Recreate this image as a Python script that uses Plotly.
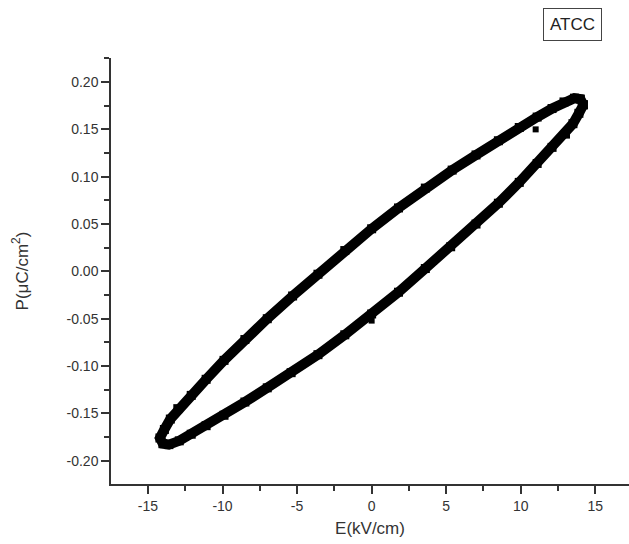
import plotly.graph_objects as go

# Hysteresis loop (E in kV/cm, P in uC/cm^2)
E_vals = [14.2, 14.0, 13.6, 12.9, 12.1, 11.1, 9.9, 8.5, 7.0, 5.4, 3.6, 1.8, 0.0,
          -1.8, -3.6, -5.3, -7.0, -8.5, -9.9, -11.1, -12.1, -13.0, -13.5, -13.9,
          -14.2, -14.0, -13.6, -12.9, -12.1, -11.1, -9.9, -8.5, -7.0, -5.4, -3.6,
          -1.8, 0.0, 1.8, 3.6, 5.3, 7.0, 8.5, 9.9, 11.1, 12.1, 13.0, 13.5, 13.9, 14.2]
P_vals = [0.176, 0.182, 0.183, 0.179, 0.172, 0.163, 0.152, 0.138, 0.123, 0.107, 0.088, 0.067, 0.045,
          0.022, -0.003, -0.026, -0.050, -0.072, -0.094, -0.114, -0.131, -0.145, -0.156, -0.167,
          -0.176, -0.182, -0.183, -0.179, -0.172, -0.163, -0.152, -0.138, -0.123, -0.107, -0.088,
          -0.067, -0.045, -0.022, 0.003, 0.026, 0.050, 0.072, 0.094, 0.114, 0.131, 0.145, 0.156, 0.167, 0.176]

# small stray points visible in the reference
E_extra = [11.0, 0.0]
P_extra = [0.150, -0.052]

x_ticks = [-15, -10, -5, 0, 5, 10, 15]
y_ticks = [-0.20, -0.15, -0.10, -0.05, 0.00, 0.05, 0.10, 0.15, 0.20]

FONT = "Liberation Sans, Arial, sans-serif"

fig = go.Figure()
fig.add_trace(go.Scatter(x=E_vals, y=P_vals, mode="lines+markers",
                         line=dict(color="black", width=10),
                         marker=dict(symbol="square", size=9, color="black"),
                         showlegend=False, hoverinfo="skip"))
fig.add_trace(go.Scatter(x=E_extra, y=P_extra, mode="markers",
                         marker=dict(symbol="square", size=6, color="black"),
                         showlegend=False, hoverinfo="skip"))

axis_common = dict(showline=True, linecolor="#333", linewidth=1.5, showgrid=False,
                   zeroline=False, ticks="outside", ticklen=8, tickwidth=1.5,
                   tickcolor="#333", tickfont=dict(family=FONT, size=14, color="#333"))

fig.update_xaxes(range=[-17.48, 17.26], tickvals=x_ticks, ticktext=[str(v) for v in x_ticks],
                 minor=dict(ticks="outside", ticklen=5, dtick=2.5, tick0=0, tickcolor="#333", tickwidth=1.5),
                 title=dict(text="E(kV/cm)", font=dict(family=FONT, size=17, color="#333"), standoff=10),
                 **axis_common)
fig.update_yaxes(range=[-0.2246, 0.2254], tickvals=y_ticks, ticktext=[f"{v:.2f}" for v in y_ticks],
                 minor=dict(ticks="outside", ticklen=5, dtick=0.025, tick0=0, tickcolor="#333", tickwidth=1.5),
                 title=dict(text="P(μC/cm<sup>2</sup>)", font=dict(family=FONT, size=17, color="#333"), standoff=34),
                 **axis_common)

fig.add_annotation(text="ATCC", xref="paper", yref="paper", x=0.891, y=1.078,
                   xanchor="center", yanchor="middle",
                   showarrow=False, font=dict(family=FONT, size=17, color="#222"),
                   bordercolor="#444", borderwidth=1, borderpad=6, bgcolor="white")

fig.update_layout(width=629, height=544, margin=dict(l=111, r=0, t=58, b=60),
                  plot_bgcolor="white", paper_bgcolor="white")

fig.write_html("out.html")
